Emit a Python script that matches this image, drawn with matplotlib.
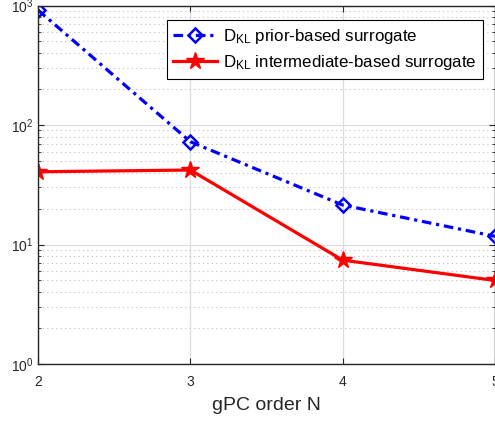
import matplotlib
matplotlib.use("Agg")
import matplotlib.pyplot as plt
import numpy as np

plt.rcParams['font.family'] = ['Liberation Sans', 'DejaVu Sans']
plt.rcParams['mathtext.default'] = 'regular'

orders = [2, 3, 4, 5]
prior_based = [916, 72.5, 21.4, 11.7]
intermediate_based = [40.6, 42, 7.4, 5.0]
labels = [r'$D_{KL}$ prior-based surrogate', r'$D_{KL}$ intermediate-based surrogate']

W, H = 495, 422
L, R, T, B = 38, 495, 5.5, 364
fig = plt.figure(figsize=(W/100, H/100), dpi=100)
ax = fig.add_axes([L/W, 1-B/H, (R-L)/W, (B-T)/H])

ax.plot(orders, prior_based, color='#0000ff', linestyle=(0, (3, 1.5, 1, 1.5)), linewidth=2.3,
        marker='D', markersize=7, markerfacecolor='none', markeredgewidth=1.8,
        label=labels[0])
ax.plot(orders, intermediate_based, color='#ff0000', linestyle='-', linewidth=2.3,
        marker='*', markersize=13, markerfacecolor='#ff0000', markeredgewidth=1,
        label=labels[1])

ax.set_yscale('log')
ax.set_xlim(2, 5)
ax.set_ylim(1, 1000)
ax.set_xticks(orders)
ax.set_xticklabels([str(o) for o in orders])
ax.set_yticks([1, 10, 100, 1000])

ax.grid(True, which='major', color='#dddddd', linestyle='-', linewidth=0.9)
ax.grid(True, which='minor', axis='y', color='#bbbbbb', linestyle=(0, (1, 3)), linewidth=0.8)
ax.set_axisbelow(True)

ax.tick_params(which='both', direction='in', top=True, right=True, colors='#262626',
               labelsize=10)
ax.tick_params(axis='x', pad=8)
ax.tick_params(which='major', length=4)
ax.tick_params(which='minor', length=2.5)
for s in ax.spines.values():
    s.set_color('#262626')
    s.set_linewidth(1.0)

ax.set_xlabel('gPC order N', fontsize=14, color='#262626', labelpad=6)

leg = ax.legend(loc='upper right', bbox_to_anchor=((483-L)/(R-L), 1-(20-T)/(B-T)),
                fontsize=12.2, frameon=True, fancybox=False, edgecolor='black',
                framealpha=1, handlelength=2.6, borderpad=0.4, labelspacing=0.45,
                handletextpad=0.3, borderaxespad=0)
leg.get_frame().set_linewidth(0.8)

fig.savefig('out.png', dpi=100)
